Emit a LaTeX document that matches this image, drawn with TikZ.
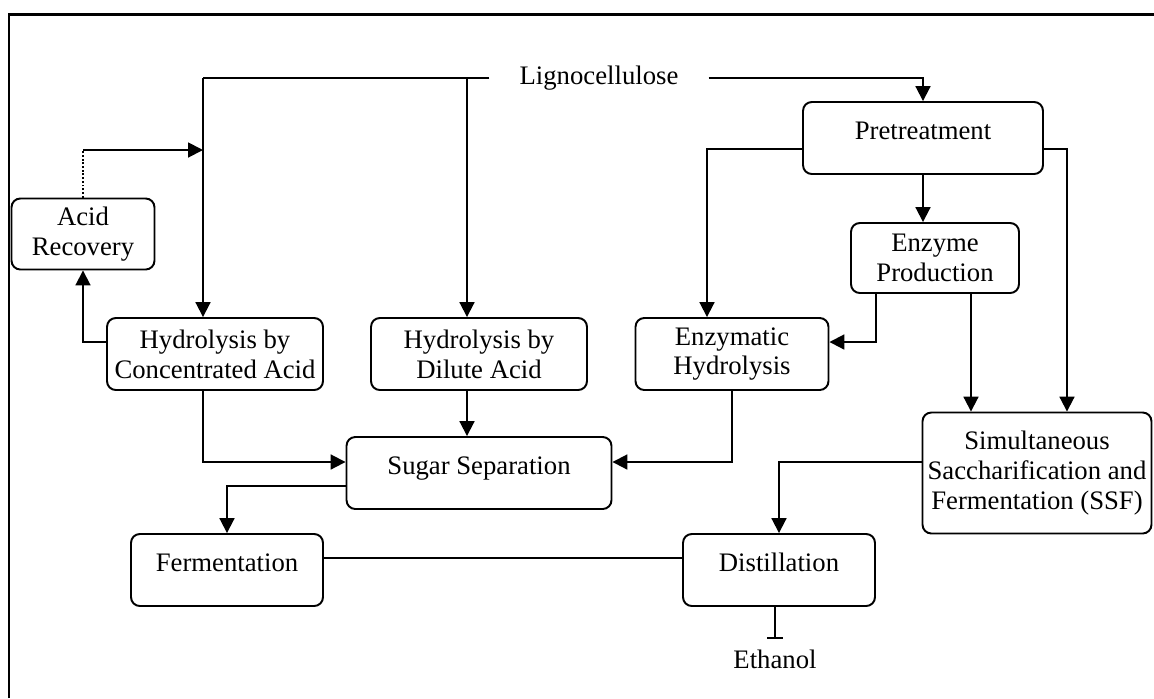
\documentclass[tikz,border=0pt]{standalone}
\usepackage{fontspec}
\setmainfont{Liberation Serif}
\usepackage{tikz}
\usetikzlibrary{arrows.meta}

\tikzset{
  stepbox/.style={draw, rounded corners=5pt, line width=1.1pt, align=center,
    font=\fontsize{15.2}{17}\selectfont, inner sep=2pt},
  lifted/.style={text height=10pt, text depth=8pt},
  flow/.style={line width=1.1pt, -{Triangle[length=8.5pt,width=8.5pt]}},
  link/.style={line width=1.1pt},
  endbar/.style={line width=1.1pt, -{Bar[width=9pt,line width=1.1pt]}},
  plain/.style={font=\fontsize{15.2}{17}\selectfont}
}

\begin{document}
\begin{tikzpicture}[x=0.02cm, y=-0.02cm]
  \useasboundingbox (0,0) rectangle (1154,698);
  % frame
  \draw[line width=1.7pt] (9,698) -- (9,14) -- (1154,14);

  % boxes
  \node[plain, inner xsep=17pt] (ligno) at (599,78) {Lignocellulose};
  \node[stepbox, lifted, minimum width=4.8cm, minimum height=1.44cm] (pre) at (923,138) {Pretreatment};
  \node[stepbox, minimum width=3.36cm, minimum height=1.4cm] (prod) at (935,258) {Enzyme\\Production};
  \node[stepbox, minimum width=2.86cm, minimum height=1.42cm] (acid) at (83,234) {Acid\\Recovery};
  \node[stepbox, minimum width=4.32cm, minimum height=1.44cm] (conc) at (215,354) {Hydrolysis by\\Concentrated Acid};
  \node[stepbox, minimum width=4.32cm, minimum height=1.44cm] (dil) at (479,354) {Hydrolysis by\\Dilute Acid};
  \node[stepbox, minimum width=3.86cm, minimum height=1.44cm] (enzh) at (732,354) {Enzymatic\\Hydrolysis};
  \node[stepbox, lifted, minimum width=5.3cm, minimum height=1.44cm] (sugar) at (479,473) {Sugar Separation};
  \node[stepbox, minimum width=4.58cm, minimum height=2.42cm] (ssf) at (1037,473) {Simultaneous\\Saccharification and\\Fermentation (SSF)};
  \node[stepbox, lifted, minimum width=3.84cm, minimum height=1.44cm] (ferm) at (227,570) {Fermentation};
  \node[stepbox, lifted, minimum width=3.84cm, minimum height=1.44cm] (dist) at (779,570) {Distillation};
  \node[plain, inner sep=6pt] (ethanol) at (775,659) {Ethanol};

  % feed lines
  \coordinate (jconc) at (203,78);
  \coordinate (jdil) at (467,78);
  \coordinate (acidtop) at (83,150);
  \draw[link] (ligno.west) -- (jconc);
  \draw[flow] (jconc) -- (jconc |- conc.north);
  \draw[flow] (jdil) -- (jdil |- dil.north);
  \draw[flow] (ligno.east) -| (pre.north);

  % acid route
  \draw[flow] ([yshift=0.24cm]conc.west) -| (acid.south);
  \draw[link, densely dotted] (acid.north) -- (acidtop);
  \draw[flow] (acidtop) -- (acidtop -| jconc);

  % enzyme route
  \draw[flow] ([yshift=-0.22cm]pre.west) -| ([xshift=-0.5cm]enzh.north);
  \draw[flow] (pre.south) -- (pre.south |- prod.north);
  \draw[flow] ([xshift=-1.18cm]prod.south) |- ([yshift=0.24cm]enzh.east);
  \draw[flow] ([xshift=0.72cm]prod.south) -- ([xshift=0.72cm]prod.south |- ssf.north);
  \draw[flow] ([yshift=-0.22cm]pre.east) -| ([xshift=0.6cm]ssf.north);

  % to sugar separation
  \draw[flow] ([xshift=-0.24cm]conc.south) |- ([yshift=0.22cm]sugar.west);
  \draw[flow] ([xshift=-0.24cm]dil.south) -- ([xshift=-0.24cm]dil.south |- sugar.north);
  \draw[flow] (enzh.south) |- ([yshift=0.22cm]sugar.east);

  % product
  \draw[flow] ([yshift=-0.26cm]sugar.west) -| (ferm.north);
  \draw[flow] ([yshift=0.22cm]ssf.west) -| (dist.north);
  \draw[link] ([yshift=0.24cm]ferm.east) -- ([yshift=0.24cm]dist.west);
  \draw[endbar] (dist.south -| ethanol.north) -- (ethanol.north);
\end{tikzpicture}
\end{document}
